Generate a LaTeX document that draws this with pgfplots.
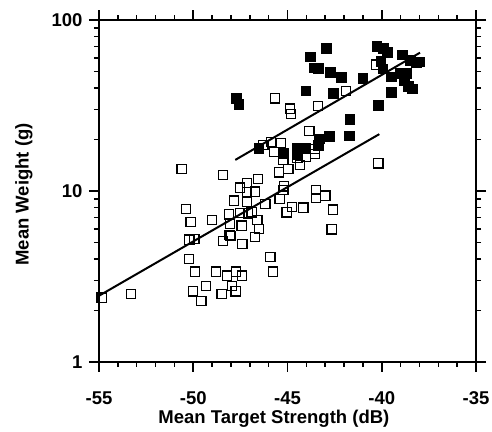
\documentclass[border=0pt]{standalone}
\usepackage{fontspec}
\setmainfont{Liberation Sans}
\usepackage{pgfplots}
\pgfplotsset{compat=1.18}

\begin{document}
\begin{tikzpicture}
% fixed page frame around the axis box
\useasboundingbox (-99pt,-69pt) rectangle (393pt,362pt);
\begin{axis}[
  at={(0,0)}, anchor=south west,
  scale only axis, width=377pt, height=342pt,
  xmin=-55, xmax=-35, ymin=1, ymax=100, ymode=log,
  xtick={-55,-50,-45,-40,-35},
  xticklabels={-55,-50,-45,-40,-35},
  minor x tick num=4,
  ytick={1,10,100}, yticklabels={1,10,100},
  tick align=outside,
  major tick length=10pt, minor tick length=5pt,
  every tick/.style={black, line width=1.6pt},
  axis line style={line width=2.2pt},
  ticklabel style={font=\fontsize{18.5}{22}\selectfont\bfseries},
  xticklabel style={yshift=-16pt},
  yticklabel style={xshift=-3pt},
  label style={font=\fontsize{18.5}{22}\selectfont\bfseries, inner sep=0pt},
  xlabel={Mean Target Strength (dB)},
  ylabel={Mean Weight (g)},
  xlabel style={at={(axis description cs:0.464,-0.18)}, anchor=base},
  ylabel style={at={(axis description cs:-0.199,0.49)}, anchor=center},
  clip=false,
]
% open squares
\addplot[only marks, mark=square, mark size=4.6pt, mark options={line width=1.2pt, black}] coordinates {
(-54.86,2.38) (-53.29,2.49) (-50.62,13.5) (-50.38,7.88) (-50.14,6.57)
(-50.20,5.20) (-49.94,5.26) (-50.21,3.99) (-49.90,3.38) (-50.00,2.59)
(-49.57,2.28) (-49.31,2.79) (-48.99,6.79) (-48.78,3.38) (-48.50,2.49)
(-48.41,5.08) (-48.21,3.20) (-48.41,12.37) (-48.09,7.29) (-48.04,6.43)
(-48.07,5.54) (-48.02,5.46) (-47.93,2.79) (-47.85,8.78) (-47.75,2.59)
(-47.72,3.38) (-47.52,10.48) (-47.52,7.42) (-47.44,6.27) (-47.40,3.20)
(-47.39,4.88) (-47.16,11.18) (-47.15,9.87) (-47.15,8.63) (-47.08,7.39)
(-46.90,7.49) (-46.72,9.93) (-46.60,6.77) (-46.55,11.75) (-46.50,5.98)
(-46.72,5.38) (-46.17,8.37) (-45.91,4.10) (-45.78,3.38) (-45.44,12.83)
(-45.42,8.95) (-45.22,10.13) (-45.17,10.65) (-45.05,7.49) (-44.77,8.08)
(-44.95,13.5) (-44.34,14.16) (-44.16,7.99) (-43.50,10.13) (-43.50,9.07)
(-42.99,9.39) (-42.60,7.78) (-42.66,5.97) (-45.22,15.22) (-45.72,16.95)
(-45.86,19.34) (-45.34,19.16) (-45.66,34.8) (-44.88,30.3) (-44.80,28.2)
(-46.28,18.58) (-44.48,15.66) (-44.02,15.87) (-43.53,17.6) (-43.53,16.5)
(-43.37,31.5) (-43.84,22.5) (-41.90,38.6) (-40.32,54.8) (-40.18,14.52)
};
% filled squares
\addplot[only marks, mark=square*, mark size=4.8pt, mark options={black, fill=black}] coordinates {
(-47.73,34.8) (-47.59,32.1) (-46.53,17.84) (-45.20,16.61) (-44.51,17.77)
(-44.51,16.39) (-44.03,17.77) (-43.38,18.58) (-43.33,20.23) (-42.80,20.97)
(-41.74,21.05) (-41.71,26.36) (-44.03,38.6) (-43.81,61.0) (-43.57,52.6)
(-43.38,52.4) (-42.96,68.4) (-42.73,49.4) (-42.16,46.3) (-42.57,37.4)
(-41.01,45.5) (-40.27,70.5) (-39.92,68.6) (-39.71,64.8) (-40.05,57.6)
(-39.95,51.9) (-40.20,31.8) (-39.51,46.6) (-39.50,37.8) (-39.03,48.8)
(-38.71,48.8) (-38.80,44.6) (-38.93,62.8) (-38.50,58.4) (-38.18,56.6)
(-38.01,57.0) (-38.59,41.1) (-38.40,39.6)
};
% fitted lines
\addplot[black, line width=2pt] coordinates {(-55,2.44) (-40.13,21.5)};
\addplot[black, line width=2pt] coordinates {(-47.77,15.2) (-37.97,64.4)};
\end{axis}
\end{tikzpicture}
\end{document}
